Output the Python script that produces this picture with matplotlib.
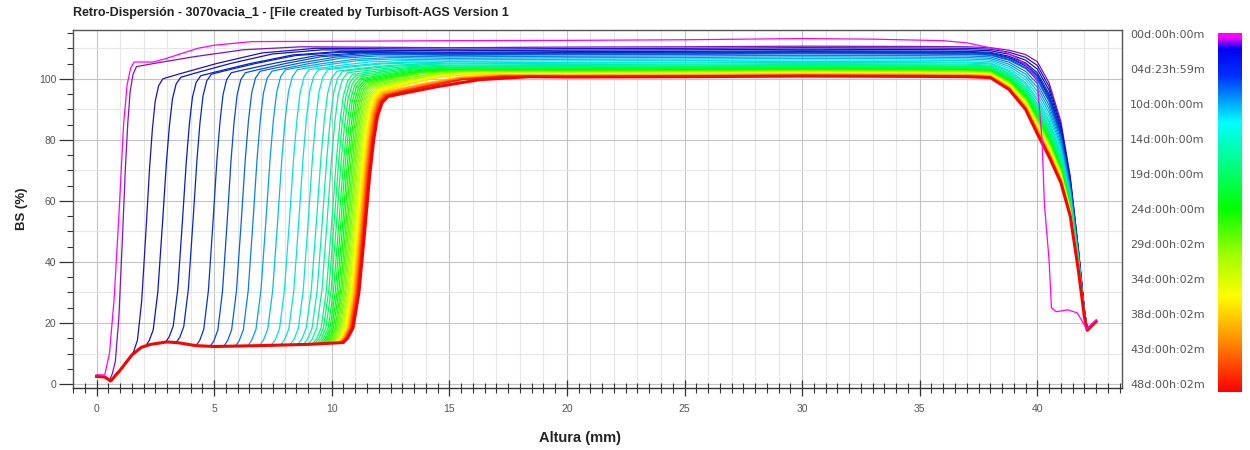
import numpy as np
import matplotlib
matplotlib.use("Agg")
import matplotlib.pyplot as plt
from matplotlib.colors import LinearSegmentedColormap, to_rgb
from matplotlib.ticker import MultipleLocator

plt.rcParams["font.family"] = ["Liberation Sans", "DejaVu Sans"]

TITLE = "Retro-Dispersión - 3070vacia_1 - [File created by Turbisoft-AGS Version 1"
TIME_LABELS = ["00d:00h:00m", "04d:23h:59m", "10d:00h:00m", "14d:00h:00m", "19d:00h:00m",
               "24d:00h:00m", "29d:00h:02m", "34d:00h:02m", "38d:00h:02m", "43d:00h:02m",
               "48d:00h:02m"]
N_DAYS = 48

# first scan (t = 0), drawn as read
scan0_x = [0.0, 0.35, 0.55, 0.75, 0.95, 1.15, 1.3, 1.45, 1.6, 2.4, 2.9, 3.5, 4.3, 5.0, 6.6,
           10.0, 15.0, 20.0, 25.0, 30.0, 33.0, 36.0, 37.0, 38.4, 39.1, 39.6, 40.0, 40.2, 40.3,
           40.5, 40.6, 40.8, 41.3, 41.7, 42.1, 42.5]
scan0_y = [3.0, 3.0, 10.0, 28.0, 55.0, 85.0, 98.0, 103.5, 105.5, 105.5, 106.5, 108.0, 110.0,
           111.0, 112.2, 112.3, 112.5, 112.6, 112.8, 113.2, 113.0, 112.5, 111.8, 109.5, 107.0,
           104.0, 99.0, 80.0, 59.0, 40.5, 25.0, 23.7, 24.3, 23.3, 18.0, 21.0]

# bottom of the tube (clear zone below the front)
base_x = [0.0, 0.35, 0.6, 1.0, 1.5, 1.9, 2.3, 3.0, 3.5, 4.2, 5.0, 7.0, 9.0, 10.5, 12.0]
base_y = [2.5, 2.3, 1.0, 4.5, 9.5, 12.0, 13.0, 13.8, 13.5, 12.6, 12.3, 12.6, 13.0, 13.6, 14.0]

# scans for days 1..48: front position at BS = 50 %, front width, knee level,
# plateau level and distance to reach the plateau
front_x = [1.1, 2.1, 2.8, 3.65, 4.1, 4.95, 5.55, 6.15, 6.65, 7.2, 7.7, 8.2, 8.6, 9.0, 9.35,
           9.6, 9.8,
           10.0, 10.1, 10.2, 10.3, 10.38, 10.46, 10.53, 10.6, 10.66, 10.72, 10.78, 10.83,
           10.88, 10.93, 10.97, 11.01, 11.05, 11.08, 11.11, 11.14, 11.17, 11.2, 11.22, 11.24,
           11.26, 11.28, 11.3, 11.32, 11.34, 11.36, 11.4]
front_w = [1.0, 1.2, 1.3, 1.3, 1.3, 1.3, 1.3, 1.35, 1.35, 1.4, 1.4, 1.4, 1.4, 1.4, 1.45,
           1.45, 1.45,
           1.5, 1.5, 1.5, 1.5, 1.5, 1.52, 1.52, 1.52, 1.54, 1.54, 1.54, 1.56, 1.56, 1.56,
           1.58, 1.58, 1.58, 1.6, 1.6, 1.6, 1.6, 1.62, 1.62, 1.62, 1.62, 1.64, 1.64, 1.64,
           1.64, 1.65, 1.65]
knee_y = [104.0, 100.0, 100.5, 101.0, 101.5, 102.0, 102.0, 102.5, 102.5, 103.0, 103.0, 103.0,
          103.0, 103.0, 102.5, 102.5, 102.0,
          101.5, 101.0, 100.5, 100.0, 99.7, 99.4, 99.1, 98.8, 98.5, 98.2, 97.9, 97.6, 97.3,
          97.0, 96.8, 96.6, 96.4, 96.2, 96.0, 95.8, 95.6, 95.4, 95.2, 95.0, 94.9, 94.8, 94.7,
          94.6, 94.5, 94.4, 94.2]
plateau = [110.5, 110.0, 109.5, 109.0, 108.7, 108.5, 108.2, 108.0, 107.5, 107.0, 106.5, 106.0,
           105.5, 105.2, 104.8, 104.5, 104.2,
           104.0, 103.8, 103.6, 103.4, 103.2, 103.0, 102.8, 102.7, 102.6, 102.5, 102.4, 102.3,
           102.2, 102.1, 102.0, 101.9, 101.8, 101.7, 101.6, 101.5, 101.4, 101.3, 101.2, 101.1,
           101.0, 100.95, 100.9, 100.85, 100.8, 100.75, 100.7]
settle = [7.0, 6.5, 6.0, 6.0, 5.5, 5.5, 5.0, 5.0, 4.5, 4.5, 4.0, 4.0, 4.0, 3.5, 3.5, 3.5, 3.5,
          3.5, 3.5, 3.5, 3.5, 3.5, 3.5, 3.5, 3.5, 3.5, 3.5, 4.0, 4.0, 4.0, 4.0, 4.0, 4.0, 4.0,
          4.0, 4.0, 4.0, 5.0, 5.0, 5.0, 5.0, 5.0, 5.0, 5.0, 5.0, 5.0, 5.0, 6.0]

# shape of the rising front (fractions of width and height) and of the step to the plateau
rise_u = [0.12, 0.25, 0.4, 0.55, 0.68, 0.78, 0.88, 1.0, 1.15]
rise_f = [0.02, 0.06, 0.2, 0.45, 0.68, 0.82, 0.92, 0.975, 1.0]
settle_u = [0.1, 0.35, 0.65, 1.0]
settle_f = [0.15, 0.5, 0.85, 1.0]
plateau_x = [15.0, 20.0, 25.0, 30.0, 35.0, 37.0]
plateau_dev = [-0.3, -0.1, 0.0, 0.2, 0.1, 0.0]

# top of the tube, for the last scan (red) and the early scans (blue)
top_x = [38.0, 38.8, 39.5, 40.0, 40.5, 41.0, 41.4, 41.75, 42.0, 42.12, 42.5]
top_red = [100.4, 96.5, 90.0, 82.0, 74.5, 66.0, 55.0, 37.0, 22.0, 17.6, 20.5]
top_blue = [108.7, 107.4, 105.2, 102.0, 95.0, 83.0, 66.0, 43.0, 24.0, 18.0, 20.8]

cmap = LinearSegmentedColormap.from_list("turbiscan", [
    (0.0, "#ff00ff"), (0.012, "#ff00ff"), (0.045, "#0000f0"), (0.12, "#0030ff"),
    (0.25, "#00ffff"), (0.49, "#00ff00"), (0.62, "#a0ff00"), (0.735, "#ffff00"),
    (0.84, "#ffa000"), (1.0, "#ff0000")])
NAVY = np.array(to_rgb("#1a2a5a"))


def line_color(t):
    # early (blue) scans are drawn a little darker than the scale
    c = np.array(cmap(t)[:3])
    k = 0.4 * max(0.0, 1.0 - t / 0.4)
    return tuple((1 - k) * c + k * NAVY)


def build_scan(i):
    w = front_w[i]
    foot = front_x[i] - 0.55 * w
    knee = foot + rise_u[-1] * w
    foot_y = float(np.interp(foot, base_x, base_y))
    xs = [x for x in base_x if x < foot] + [foot]
    ys = [y for x, y in zip(base_x, base_y) if x < foot] + [foot_y]
    for u, f in zip(rise_u, rise_f):
        xs.append(foot + u * w)
        ys.append(foot_y + f * (knee_y[i] - foot_y))
    for u, f in zip(settle_u, settle_f):
        xs.append(knee + u * settle[i])
        ys.append(knee_y[i] + f * (plateau[i] - knee_y[i]))
    for x, d in zip(plateau_x, plateau_dev):
        if x > xs[-1]:
            xs.append(x)
            ys.append(plateau[i] + d)
    mix = (plateau[i] - 100.7) / (109.0 - 100.7)
    for x, r, b in zip(top_x, top_red, top_blue):
        xs.append(x)
        ys.append(r + mix * (b - r))
    return xs, ys


fig = plt.figure(figsize=(12.5, 4.5), dpi=100)
ax = fig.add_axes([73 / 1250, 62 / 450, 1049 / 1250, 358 / 450])

# grid
for gx in range(-1, 44):
    ax.axvline(gx, color="#c4c4c4" if gx % 5 == 0 else "#e6e6e6", lw=0.8, zorder=0)
for gy in range(0, 120, 10):
    ax.axhline(gy, color="#c4c4c4" if gy % 20 == 0 else "#e6e6e6", lw=0.8, zorder=0)

for i in range(N_DAYS):
    xs, ys = build_scan(i)
    day = i + 1
    lw = 2.2 if day == N_DAYS else 0.9
    ax.plot(xs, ys, color=line_color(day / N_DAYS), lw=lw, zorder=2)
ax.plot(scan0_x, scan0_y, color=cmap(0.0), lw=0.9, zorder=3)

ax.set_xlim(-1.0, 43.6)
ax.set_ylim(-1.3, 116)
ax.xaxis.set_major_locator(MultipleLocator(5))
ax.xaxis.set_minor_locator(MultipleLocator(0.5))
ax.yaxis.set_major_locator(MultipleLocator(20))
ax.yaxis.set_minor_locator(MultipleLocator(5))
ax.tick_params(axis="x", which="major", direction="inout", length=11, width=0.9,
               color="#333333", labelsize=7.5, labelcolor="#555555", pad=6)
ax.tick_params(axis="x", which="minor", direction="inout", length=7, width=0.8, color="#333333")
ax.tick_params(axis="y", which="major", direction="out", length=10, width=0.9,
               color="#333333", labelsize=7.5, labelcolor="#555555", pad=2)
ax.tick_params(axis="y", which="minor", direction="out", length=4.5, width=0.8, color="#333333")
for sp in ax.spines.values():
    sp.set_color("#555555")
    sp.set_linewidth(1.0)
ax.spines["bottom"].set_color("#333333")

ax.set_xlabel("Altura (mm)", fontsize=10.5, fontweight="bold", color="#222222")
ax.xaxis.set_label_coords((580 - 73) / 1049, -0.12)
ax.set_ylabel("BS (%)", fontsize=9.5, fontweight="bold", color="#222222", labelpad=8)
fig.text(73 / 1250, 1 - 13 / 450, TITLE, fontsize=9, fontweight="bold", color="#222222",
         va="center", ha="left")

# colour scale for scan time
cax = fig.add_axes([1218 / 1250, 58 / 450, 24 / 1250, 359 / 450])
cax.imshow(np.linspace(0, 1, 256)[:, None], aspect="auto", cmap=cmap, origin="upper")
cax.set_axis_off()
for k, lab in enumerate(TIME_LABELS):
    ypix = 35 + k * 350 / (len(TIME_LABELS) - 1)
    fig.text(1130 / 1250, 1 - ypix / 450, lab, fontsize=8, color="#555555",
             family="DejaVu Sans", va="center", ha="left")

fig.savefig("out.png", dpi=100)
